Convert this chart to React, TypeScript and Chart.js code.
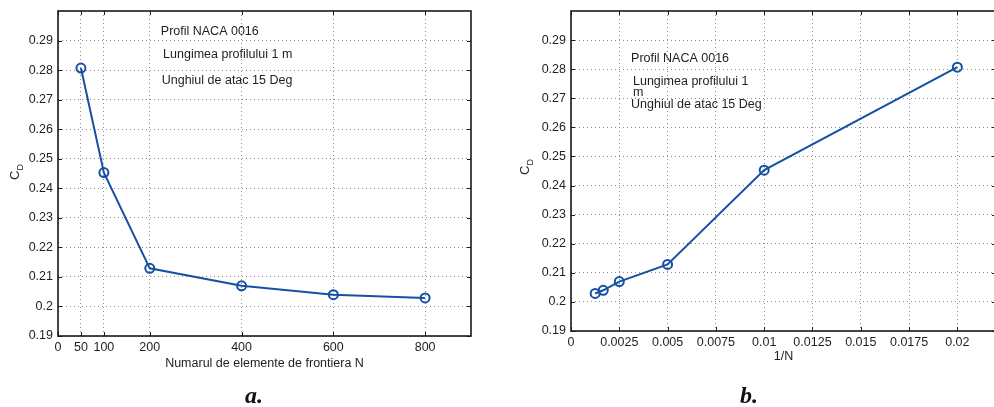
import React, { useEffect, useRef } from "react";
import { Chart, registerables } from "chart.js";

Chart.register(...registerables);

// ---------------- data ----------------
const elementCounts = [50, 100, 200, 400, 600, 800];
const inverseCounts = [0.02, 0.01, 0.005, 0.0025, 0.00167, 0.00125];
const dragCoefficients = [0.2807, 0.2453, 0.2129, 0.207, 0.204, 0.2029];

const yTickValues = [0.19, 0.2, 0.21, 0.22, 0.23, 0.24, 0.25, 0.26, 0.27, 0.28, 0.29];
const xTickValuesA = [0, 50, 100, 200, 400, 600, 800];
const xTickValuesB = [0, 0.0025, 0.005, 0.0075, 0.01, 0.0125, 0.015, 0.0175, 0.02];

const notesA = ["Profil NACA 0016", "Lungimea profilului 1 m", "Unghiul de atac 15 Deg"];
const notesB = ["Profil NACA 0016", "Lungimea profilului 1", "m", "Unghiul de atac 15 Deg"];

const xLabelA = "Numarul de elemente de frontiera N";
const xLabelB = "1/N";

// ---------------- styles ----------------
const FONT = '"Liberation Sans", Arial, Helvetica, sans-serif';
const TEXT = "#1e1e1e";
const LINE = "#1650a4";
const GRID = "#8c8c8c";
const FRAME = "#1a1a1a";

type Note = { text: string; x: number; y: number };

const matlabPlugin = {
  id: "matlabFrame",
  afterDraw(chart: any, _args: any, opts: any) {
    const { ctx, chartArea, scales } = chart;
    const { left, right, top, bottom } = chartArea;
    const xs = scales.x;
    const ys = scales.y;
    ctx.save();
    // inward ticks on all four sides
    ctx.strokeStyle = FRAME;
    ctx.lineWidth = 1;
    const tl = 4;
    ctx.beginPath();
    xs.ticks.forEach((t: any) => {
      const px = Math.round(xs.getPixelForValue(t.value)) + 0.5;
      ctx.moveTo(px, bottom);
      ctx.lineTo(px, bottom - tl);
      ctx.moveTo(px, top);
      ctx.lineTo(px, top + tl);
    });
    ys.ticks.forEach((t: any) => {
      const py = Math.round(ys.getPixelForValue(t.value)) + 0.5;
      ctx.moveTo(left, py);
      ctx.lineTo(left + tl, py);
      ctx.moveTo(right, py);
      ctx.lineTo(right - tl, py);
    });
    ctx.stroke();
    // frame
    ctx.lineWidth = 1.6;
    ctx.strokeStyle = FRAME;
    ctx.strokeRect(left, top, right - left, bottom - top);

    // annotations in data coordinates
    ctx.fillStyle = TEXT;
    ctx.font = `12.5px ${FONT}`;
    ctx.textAlign = "left";
    ctx.textBaseline = "middle";
    (opts.notes as Note[]).forEach((n) => {
      ctx.fillText(n.text, xs.getPixelForValue(n.x), ys.getPixelForValue(n.y));
    });

    // y label C_D (rotated)
    ctx.translate(opts.ylabelX, opts.ylabelY);
    ctx.rotate(-Math.PI / 2);
    ctx.textBaseline = "alphabetic";
    ctx.font = `13px ${FONT}`;
    const cw = ctx.measureText("C").width;
    ctx.font = `9px ${FONT}`;
    const dw = ctx.measureText("D").width;
    const total = cw + dw;
    ctx.font = `13px ${FONT}`;
    ctx.fillText("C", -total / 2, 4);
    ctx.font = `9px ${FONT}`;
    ctx.fillText("D", -total / 2 + cw, 8);
    ctx.restore();
  },
};

type PlotProps = {
  xs: number[];
  ys: number[];
  xMin: number;
  xMax: number;
  xTicks: number[];
  xLabel: string;
  notes: Note[];
  canvasLeft: number;
  width: number;
  yAxisWidth: number;
  padding: { left: number; right: number; top: number; bottom: number };
  titlePadBottom: number;
  ylabelX: number;
  ylabelY: number;
};

function MatlabPlot(p: PlotProps) {
  const ref = useRef<HTMLCanvasElement>(null);
  useEffect(() => {
    const points = p.xs.map((x, i) => ({ x, y: p.ys[i] }));
    const chart = new Chart(ref.current as HTMLCanvasElement, {
      type: "scatter",
      data: {
        datasets: [
          {
            data: points,
            showLine: true,
            borderColor: LINE,
            borderWidth: 2,
            backgroundColor: "rgba(0,0,0,0)",
            pointRadius: 4.5,
            pointBorderWidth: 2,
            pointBorderColor: LINE,
            pointBackgroundColor: "rgba(0,0,0,0)",
            pointHoverRadius: 4.5,
            tension: 0,
          },
        ],
      },
      options: {
        responsive: false,
        animation: false,
        devicePixelRatio: 1,
        events: [],
        layout: { padding: p.padding },
        plugins: {
          legend: { display: false },
          tooltip: { enabled: false },
          matlabFrame: { notes: p.notes, ylabelX: p.ylabelX, ylabelY: p.ylabelY },
        } as any,
        scales: {
          x: {
            type: "linear",
            min: p.xMin,
            max: p.xMax,
            afterBuildTicks: (s: any) => {
              s.ticks = p.xTicks.map((v) => ({ value: v }));
            },
            afterFit: (s: any) => {
              s.height = 40;
              s.paddingLeft = 0;
              s.paddingRight = 0;
            },
            grid: { color: GRID, lineWidth: 1, drawTicks: false },
            border: { display: false, dash: [1, 3] },
            ticks: {
              padding: 4,
              color: TEXT,
              autoSkip: false,
              maxRotation: 0,
              font: { family: FONT, size: 12.5 },
              callback: (v: any) => String(v),
            },
            title: {
              display: true,
              text: p.xLabel,
              color: TEXT,
              font: { family: FONT, size: 12.5 },
              padding: { top: 0, bottom: p.titlePadBottom },
            },
          },
          y: {
            type: "linear",
            min: 0.19,
            max: 0.3,
            afterBuildTicks: (s: any) => {
              s.ticks = yTickValues.map((v) => ({ value: v }));
            },
            afterFit: (s: any) => {
              s.width = p.yAxisWidth;
              s.paddingTop = 0;
              s.paddingBottom = 0;
            },
            grid: { color: GRID, lineWidth: 1, drawTicks: false },
            border: { display: false, dash: [1, 3] },
            ticks: {
              padding: 5,
              color: TEXT,
              autoSkip: false,
              font: { family: FONT, size: 12.5 },
              callback: (v: any) => String(v),
            },
          },
        },
      },
      plugins: [matlabPlugin],
    } as any);
    return () => chart.destroy();
  }, []);
  return (
    <canvas
      ref={ref}
      width={p.width}
      height={407}
      style={{ position: "absolute", left: p.canvasLeft, top: 0, width: p.width, height: 407 }}
    />
  );
}

const captionStyle: React.CSSProperties = {
  position: "absolute",
  top: 383,
  fontFamily: '"Liberation Serif", "Times New Roman", serif',
  fontWeight: "bold",
  fontStyle: "italic",
  fontSize: 24,
  lineHeight: "24px",
  color: "#111",
};

export default function App() {
  const notesAData: Note[] = [
    { text: notesA[0], x: 224, y: 0.2929 },
    { text: notesA[1], x: 229, y: 0.2854 },
    { text: notesA[2], x: 226, y: 0.2766 },
  ];
  const notesBData: Note[] = [
    { text: notesB[0], x: 0.00311, y: 0.2838 },
    { text: notesB[1], x: 0.00321, y: 0.2757 },
    { text: notesB[2], x: 0.00321, y: 0.2719 },
    { text: notesB[3], x: 0.00311, y: 0.2677 },
  ];
  return (
    <div
      style={{
        position: "fixed",
        left: 0,
        top: 0,
        width: 994,
        height: 407,
        overflow: "hidden",
        background: "#fff",
      }}
    >
      <MatlabPlot
        xs={elementCounts}
        ys={dragCoefficients}
        xMin={0}
        xMax={900}
        xTicks={xTickValuesA}
        xLabel={xLabelA}
        notes={notesAData}
        canvasLeft={0}
        width={500}
        yAxisWidth={58}
        padding={{ left: 0, right: 29, top: 11, bottom: 31 }}
        titlePadBottom={5}
        ylabelX={15}
        ylabelY={172}
      />
      <MatlabPlot
        xs={inverseCounts}
        ys={dragCoefficients}
        xMin={0}
        xMax={0.022}
        xTicks={xTickValuesB}
        xLabel={xLabelB}
        notes={notesBData}
        canvasLeft={500}
        width={510}
        yAxisWidth={71}
        padding={{ left: 0, right: 14, top: 11, bottom: 36 }}
        titlePadBottom={7}
        ylabelX={25}
        ylabelY={167}
      />
      <div style={{ ...captionStyle, left: 245 }}>a.</div>
      <div style={{ ...captionStyle, left: 740 }}>b.</div>
    </div>
  );
}
